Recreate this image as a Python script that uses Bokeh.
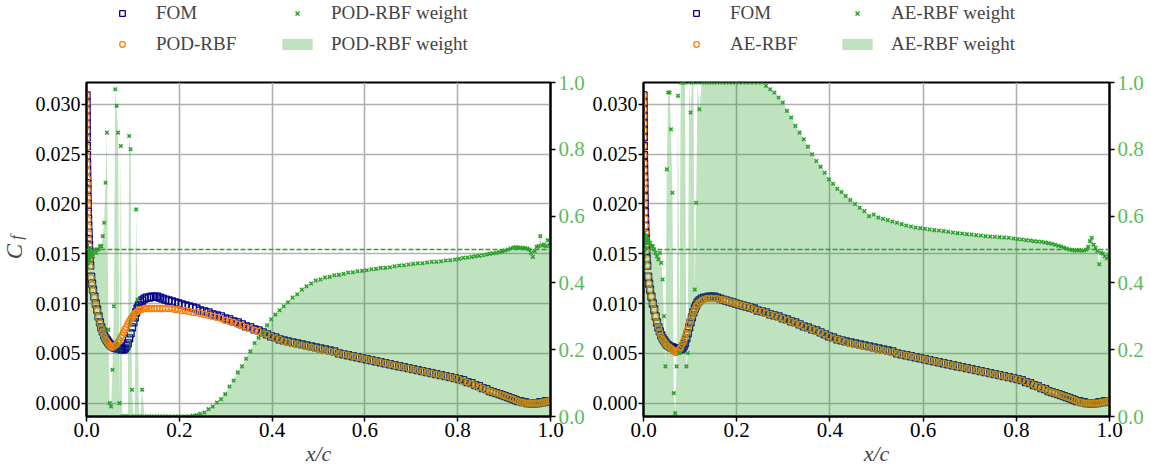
from bokeh.plotting import figure
from bokeh.models import (Range1d, LinearAxis, FixedTicker, PrintfTickFormatter,
                          Span, Legend, LegendItem, Label, ColumnDataSource)
from bokeh.layouts import row, column
from bokeh.embed import file_html
from bokeh.resources import INLINE

# ---------------- data ----------------
x_c = [
    0.0, 0.0001, 0.0002, 0.0003, 0.0004, 0.0005, 0.0006, 0.0008, 0.001, 0.0012,
    0.0014, 0.0016, 0.0018, 0.002, 0.0023, 0.0026, 0.003, 0.0034, 0.0038, 0.0043,
    0.0048, 0.0054, 0.006, 0.007, 0.008,
    0.010, 0.012, 0.014, 0.017, 0.020, 0.023, 0.026, 0.029, 0.032, 0.035,
    0.038, 0.041, 0.044, 0.047, 0.050, 0.053, 0.056, 0.059, 0.062, 0.065,
    0.068, 0.071, 0.074, 0.077, 0.080, 0.083, 0.086, 0.089, 0.092, 0.095,
    0.098, 0.101, 0.104, 0.107, 0.110, 0.113, 0.116, 0.120, 0.125, 0.130,
    0.135, 0.140, 0.146, 0.152, 0.158, 0.164, 0.170, 0.177, 0.184, 0.191,
    0.198, 0.205, 0.213, 0.221, 0.229, 0.237, 0.245, 0.254, 0.263, 0.272,
    0.281, 0.290, 0.299, 0.308, 0.317, 0.326, 0.335, 0.344, 0.353, 0.362,
    0.371, 0.380, 0.389, 0.398, 0.407, 0.416, 0.425, 0.434, 0.444, 0.454,
    0.464, 0.474, 0.484, 0.494, 0.504, 0.514, 0.524, 0.534, 0.544, 0.554,
    0.564, 0.574, 0.584, 0.594, 0.604, 0.614, 0.624, 0.634, 0.644, 0.654,
    0.664, 0.674, 0.684, 0.694, 0.704, 0.714, 0.724, 0.734, 0.744, 0.754,
    0.764, 0.774, 0.784, 0.794, 0.803, 0.812, 0.821, 0.830, 0.838, 0.846,
    0.854, 0.862, 0.869, 0.876, 0.883, 0.890, 0.896, 0.902, 0.908, 0.914,
    0.920, 0.925, 0.930, 0.935, 0.940, 0.945, 0.950, 0.954, 0.958, 0.962,
    0.966, 0.970, 0.974, 0.978, 0.982, 0.986, 0.990, 0.994, 0.998, 1.0,
]

cf_fom = [
    0.0309, 0.0302, 0.0295, 0.0288, 0.0281, 0.0274, 0.0267, 0.0258, 0.0249, 0.0241,
    0.0234, 0.0227, 0.0221, 0.0215, 0.0207, 0.0200, 0.0192, 0.0185, 0.0178, 0.0171,
    0.0165, 0.0159, 0.0153, 0.0145, 0.0138,
    0.0127, 0.0120, 0.0114, 0.0107, 0.0100, 0.0094, 0.0087, 0.0081, 0.0076, 0.0072,
    0.0068, 0.0065, 0.0063, 0.0061, 0.0059, 0.0058, 0.0057, 0.0056, 0.0056, 0.0055,
    0.0055, 0.0055, 0.0054, 0.0054, 0.0054, 0.0055, 0.0057, 0.0060, 0.0065, 0.0070,
    0.0076, 0.0081, 0.0086, 0.0091, 0.0095, 0.0098, 0.0101, 0.0103, 0.0105, 0.0106,
    0.0106, 0.0107, 0.0107, 0.0107, 0.0106, 0.0105, 0.0104, 0.0103, 0.0102, 0.0101,
    0.0100, 0.0099, 0.0098, 0.0097, 0.0096, 0.0095, 0.0093, 0.0092, 0.0091, 0.0089,
    0.0088, 0.0087, 0.0085, 0.0084, 0.0082, 0.0081, 0.0079, 0.0077, 0.0076, 0.0074,
    0.0073, 0.0071, 0.0069, 0.0067, 0.0066, 0.0064, 0.0063, 0.0062, 0.0061, 0.0060,
    0.0059, 0.0058, 0.0057, 0.0056, 0.0055, 0.0054, 0.0053, 0.0052, 0.0050, 0.0049,
    0.0048, 0.0047, 0.0046, 0.0045, 0.0044, 0.0043, 0.0042, 0.0041, 0.0040, 0.0039,
    0.0038, 0.0037, 0.0036, 0.0035, 0.0034, 0.0033, 0.0032, 0.0031, 0.0030, 0.0029,
    0.0028, 0.0027, 0.0026, 0.0025, 0.0024, 0.0023, 0.0021, 0.0020, 0.0018, 0.0017,
    0.0015, 0.0014, 0.0012, 0.0011, 0.0010, 0.0009, 0.0008, 0.0007, 0.0006, 0.0005,
    0.0004, 0.0003, 0.0002, 0.0002, 0.0001, 0.0001, 0.0000, 0.0000, 0.0000, 0.0000,
    0.0000, 0.0000, 0.0000, 0.0001, 0.0001, 0.0001, 0.0002, 0.0002, 0.0002, 0.0002,
]

cf_pod_rbf = [
    0.0309, 0.0301, 0.0294, 0.0287, 0.0280, 0.0273, 0.0266, 0.0257, 0.0248, 0.0240,
    0.0233, 0.0226, 0.0220, 0.0214, 0.0206, 0.0199, 0.0191, 0.0184, 0.0177, 0.0170,
    0.0164, 0.0158, 0.0152, 0.0144, 0.0137,
    0.0126, 0.0119, 0.0113, 0.0106, 0.0099, 0.0093, 0.0086, 0.0080, 0.0075, 0.0071,
    0.0067, 0.0064, 0.0062, 0.0060, 0.0058, 0.0057, 0.0056, 0.0057, 0.0058, 0.0059,
    0.0061, 0.0063, 0.0066, 0.0068, 0.0071, 0.0074, 0.0076, 0.0079, 0.0082, 0.0084,
    0.0086, 0.0088, 0.0090, 0.0091, 0.0092, 0.0093, 0.0094, 0.0094, 0.0095, 0.0095,
    0.0095, 0.0095, 0.0095, 0.0095, 0.0095, 0.0095, 0.0095, 0.0095, 0.0095, 0.0094,
    0.0094, 0.0093, 0.0093, 0.0092, 0.0091, 0.0091, 0.0090, 0.0089, 0.0088, 0.0087,
    0.0086, 0.0085, 0.0083, 0.0082, 0.0081, 0.0079, 0.0078, 0.0076, 0.0075, 0.0073,
    0.0072, 0.0070, 0.0069, 0.0067, 0.0065, 0.0064, 0.0062, 0.0061, 0.0060, 0.0059,
    0.0058, 0.0057, 0.0056, 0.0055, 0.0054, 0.0053, 0.0052, 0.0051, 0.0050, 0.0049,
    0.0048, 0.0047, 0.0046, 0.0045, 0.0044, 0.0043, 0.0042, 0.0041, 0.0040, 0.0039,
    0.0038, 0.0037, 0.0036, 0.0035, 0.0034, 0.0033, 0.0032, 0.0031, 0.0030, 0.0029,
    0.0028, 0.0027, 0.0026, 0.0025, 0.0024, 0.0022, 0.0021, 0.0019, 0.0018, 0.0016,
    0.0015, 0.0013, 0.0012, 0.0011, 0.0010, 0.0009, 0.0008, 0.0007, 0.0006, 0.0005,
    0.0004, 0.0003, 0.0002, 0.0001, 0.0001, 0.0000, 0.0000, 0.0000, 0.0000, 0.0000,
    0.0000, 0.0000, 0.0000, 0.0000, 0.0001, 0.0001, 0.0001, 0.0002, 0.0002, 0.0002,
]

cf_ae_rbf = [
    0.0309, 0.0302, 0.0295, 0.0288, 0.0281, 0.0274, 0.0267, 0.0258, 0.0249, 0.0241,
    0.0234, 0.0227, 0.0221, 0.0215, 0.0207, 0.0200, 0.0192, 0.0185, 0.0178, 0.0171,
    0.0165, 0.0159, 0.0153, 0.0145, 0.0138,
    0.0127, 0.0120, 0.0114, 0.0107, 0.0100, 0.0094, 0.0087, 0.0081, 0.0076, 0.0071,
    0.0067, 0.0064, 0.0062, 0.0060, 0.0058, 0.0057, 0.0056, 0.0055, 0.0054, 0.0052,
    0.0051, 0.0051, 0.0052, 0.0054, 0.0056, 0.0059, 0.0062, 0.0066, 0.0070, 0.0074,
    0.0079, 0.0083, 0.0087, 0.0091, 0.0094, 0.0097, 0.0099, 0.0101, 0.0103, 0.0104,
    0.0105, 0.0105, 0.0105, 0.0105, 0.0105, 0.0104, 0.0104, 0.0103, 0.0102, 0.0101,
    0.0100, 0.0099, 0.0098, 0.0097, 0.0096, 0.0094, 0.0093, 0.0092, 0.0090, 0.0089,
    0.0088, 0.0086, 0.0085, 0.0083, 0.0082, 0.0080, 0.0079, 0.0077, 0.0075, 0.0074,
    0.0072, 0.0071, 0.0069, 0.0067, 0.0065, 0.0064, 0.0063, 0.0061, 0.0060, 0.0059,
    0.0058, 0.0057, 0.0056, 0.0055, 0.0054, 0.0053, 0.0052, 0.0051, 0.0050, 0.0049,
    0.0048, 0.0047, 0.0046, 0.0045, 0.0044, 0.0043, 0.0042, 0.0041, 0.0040, 0.0039,
    0.0038, 0.0037, 0.0036, 0.0035, 0.0034, 0.0033, 0.0032, 0.0031, 0.0030, 0.0029,
    0.0028, 0.0027, 0.0026, 0.0025, 0.0024, 0.0023, 0.0021, 0.0020, 0.0018, 0.0017,
    0.0015, 0.0014, 0.0012, 0.0011, 0.0010, 0.0009, 0.0008, 0.0007, 0.0006, 0.0005,
    0.0004, 0.0003, 0.0002, 0.0001, 0.0001, 0.0000, 0.0000, 0.0000, 0.0000, 0.0000,
    0.0000, 0.0000, 0.0000, 0.0000, 0.0001, 0.0001, 0.0001, 0.0002, 0.0002, 0.0002,
]

w_pod_rbf = [
    0.47, 0.45, 0.50, 0.46, 0.52, 0.48, 0.45, 0.50, 0.47, 0.49,
    0.46, 0.51, 0.48, 0.47, 0.50, 0.46, 0.49, 0.48, 0.50, 0.47,
    0.49, 0.48, 0.50, 0.47, 0.49,
    0.48, 0.49, 0.48, 0.50, 0.49, 0.50, 0.50, 0.51, 0.51, 0.54,
    0.58, 0.70, 0.85, 0.26, 0.04, 0.03, 0.14, 0.33, 0.98, 0.93,
    0.85, 0.04, 0.81, 0.00, 0.00, 0.00, 0.00, 0.00, 0.84, 0.80,
    0.08, 0.00, 0.00, 0.62, 0.35, 0.00, 0.00, 0.08, 0.00, 0.00,
    0.00, 0.00, 0.00, 0.00, 0.00, 0.00, 0.00, 0.00, 0.00, 0.00,
    0.00, 0.00, 0.00, 0.00, 0.002, 0.004, 0.008, 0.012, 0.022, 0.030,
    0.042, 0.052, 0.067, 0.090, 0.108, 0.132, 0.150, 0.173, 0.195, 0.220,
    0.236, 0.254, 0.273, 0.291, 0.305, 0.318, 0.330, 0.342, 0.356, 0.366,
    0.380, 0.390, 0.398, 0.407, 0.410, 0.416, 0.418, 0.423, 0.424, 0.427,
    0.431, 0.432, 0.435, 0.436, 0.438, 0.441, 0.442, 0.445, 0.445, 0.447,
    0.450, 0.452, 0.453, 0.455, 0.457, 0.459, 0.459, 0.461, 0.463, 0.463,
    0.465, 0.467, 0.468, 0.470, 0.472, 0.475, 0.476, 0.478, 0.480, 0.481,
    0.483, 0.485, 0.487, 0.489, 0.490, 0.492, 0.494, 0.497, 0.500, 0.503,
    0.506, 0.507, 0.506, 0.505, 0.505, 0.504, 0.503, 0.500, 0.490, 0.478,
    0.495, 0.508, 0.510, 0.540, 0.512, 0.515, 0.510, 0.528, 0.512, 0.520,
]

w_ae_rbf = [
    0.50, 0.45, 0.55, 0.47, 0.53, 0.49, 0.55, 0.46, 0.54, 0.51,
    0.55, 0.48, 0.54, 0.52, 0.55, 0.50, 0.54, 0.53, 0.52, 0.54,
    0.53, 0.52, 0.54, 0.53, 0.52,
    0.53, 0.52, 0.52, 0.51, 0.51, 0.50, 0.49, 0.48, 0.47, 0.49,
    0.46, 0.41, 0.30, 0.15, 0.74, 0.97, 0.97, 0.86, 0.67, 0.07,
    0.01, 0.15, 0.96, 0.19, 1.00, 1.00, 1.00, 1.00, 0.15, 0.19,
    1.00, 0.91, 1.00, 1.00, 0.38, 0.64, 1.00, 0.92, 1.00, 1.00,
    1.00, 1.00, 1.00, 1.00, 1.00, 1.00, 1.00, 1.00, 1.00, 1.00,
    1.00, 1.00, 1.00, 1.00, 1.00, 1.00, 1.00, 1.00, 0.99, 0.98,
    0.97, 0.955, 0.94, 0.915, 0.895, 0.87, 0.85, 0.83, 0.808, 0.785,
    0.765, 0.748, 0.73, 0.71, 0.697, 0.682, 0.672, 0.66, 0.648, 0.636,
    0.625, 0.615, 0.600, 0.605, 0.596, 0.592, 0.588, 0.584, 0.580, 0.576,
    0.572, 0.569, 0.566, 0.564, 0.562, 0.560, 0.558, 0.557, 0.555, 0.553,
    0.551, 0.549, 0.548, 0.546, 0.545, 0.543, 0.542, 0.540, 0.539, 0.538,
    0.537, 0.536, 0.535, 0.533, 0.531, 0.530, 0.528, 0.527, 0.525, 0.524,
    0.523, 0.521, 0.519, 0.517, 0.514, 0.511, 0.509, 0.506, 0.503, 0.500,
    0.499, 0.497, 0.498, 0.498, 0.497, 0.497, 0.500, 0.508, 0.525, 0.535,
    0.515, 0.505, 0.495, 0.456, 0.490, 0.488, 0.480, 0.474, 0.485, 0.480,
]

weight_threshold = 0.5
x_ticks = [0.0, 0.2, 0.4, 0.6, 0.8, 1.0]
cf_ticks = [0.000, 0.005, 0.010, 0.015, 0.020, 0.025, 0.030]
w_ticks = [0.0, 0.2, 0.4, 0.6, 0.8, 1.0]

for arr in (cf_fom, cf_pod_rbf, cf_ae_rbf, w_pod_rbf, w_ae_rbf):
    assert len(arr) == len(x_c)

# ---------------- styling ----------------
FONT = "Liberation Serif"
GREEN = "#2ca02c"
GREEN_LABEL = "#5dbb5d"
NAVY = "#00008b"
ORANGE = "#ff7f0e"
GRID = "#b0b0b0"
LABEL_W = 31
LEG_H = 72

src_pod = ColumnDataSource(dict(x=x_c, fom=cf_fom, rom=cf_pod_rbf, w=w_pod_rbf))
src_ae = ColumnDataSource(dict(x=x_c, fom=cf_fom, rom=cf_ae_rbf, w=w_ae_rbf))


def style_axis(ax, fmt, ticks, label_color="black", size="21px"):
    ax.ticker = FixedTicker(ticks=ticks)
    ax.formatter = PrintfTickFormatter(format=fmt)
    ax.axis_line_color = "black"
    ax.axis_line_width = 2
    ax.major_tick_line_color = "black"
    ax.major_tick_line_width = 1.5
    ax.major_tick_out = 5
    ax.major_tick_in = 0
    ax.minor_tick_line_color = None
    ax.major_label_text_font = FONT
    ax.major_label_text_font_size = size
    ax.major_label_text_color = label_color
    ax.major_label_standoff = 1


def draw_series(p, src, y_range_name="default"):
    """FOM squares, ROM circles, weight fill and weight crosses."""
    r_fom = p.scatter("x", "fom", source=src, marker="square", size=7,
                      fill_color=None, line_color=NAVY, line_width=1.3)
    r_rom = p.scatter("x", "rom", source=src, marker="circle", size=6,
                      fill_color=None, line_color=ORANGE, line_width=1.3)
    r_fill = p.varea(x="x", y1=0, y2="w", source=src, y_range_name=y_range_name,
                     fill_color=GREEN, fill_alpha=0.3)
    r_wx = p.scatter("x", "w", source=src, y_range_name=y_range_name, marker="x",
                     size=5, line_color=GREEN, line_width=1.5)
    return r_fom, r_rom, r_fill, r_wx


def make_panel(src, b_left, b_right, f_width):
    p = figure(frame_width=f_width, frame_height=334,
               min_border_left=b_left, min_border_right=b_right,
               min_border_top=10, min_border_bottom=55,
               x_range=Range1d(0, 1), y_range=Range1d(-0.00135, 0.0322),
               output_backend="svg", toolbar_location=None)
    p.extra_y_ranges = {"w": Range1d(0, 1)}
    p.background_fill_color = "white"
    p.border_fill_color = "white"
    p.outline_line_color = "black"
    p.outline_line_width = 2
    p.outline_line_alpha = 1

    style_axis(p.xaxis[0], "%.1f", x_ticks)
    style_axis(p.yaxis[0], "%.3f", cf_ticks, size="20px")
    p.xaxis[0].axis_label = "x/c"
    p.xaxis[0].axis_label_text_font = FONT
    p.xaxis[0].axis_label_text_font_style = "italic"
    p.xaxis[0].axis_label_text_font_size = "22px"
    p.xaxis[0].axis_label_standoff = 1

    ax_r = LinearAxis(y_range_name="w")
    style_axis(ax_r, "%.1f", w_ticks, GREEN_LABEL)
    ax_r.major_label_standoff = 3
    p.add_layout(ax_r, "right")

    p.xgrid.ticker = FixedTicker(ticks=x_ticks)
    p.ygrid.ticker = FixedTicker(ticks=cf_ticks)
    for g in (p.xgrid, p.ygrid):
        g.grid_line_color = GRID
        g.grid_line_width = 1.6

    draw_series(p, src, "w")
    p.add_layout(Span(location=weight_threshold, dimension="width", y_range_name="w",
                      line_color=GREEN, line_dash="5 2", line_width=1.3))
    return p


# ---------------- legend strip (above both panels) ----------------
# the series are drawn here again, but outside this strip's visible range,
# so only the legend entries show
leg = figure(width=1151, height=LEG_H, min_border=0, x_range=Range1d(0, 1),
             y_range=Range1d(10, 11), x_axis_location=None, y_axis_location=None,
             output_backend="svg", toolbar_location=None)
leg.outline_line_color = None
leg.xgrid.visible = False
leg.ygrid.visible = False


def add_legend(items, x):
    lg = Legend(items=items, location=(x, 16), padding=0, margin=0,
                spacing=7, glyph_width=38, glyph_height=14, label_standoff=15,
                label_height=24, border_line_color=None, background_fill_alpha=0,
                label_text_font=FONT, label_text_font_size="19px")
    leg.add_layout(lg)


for src, rom_name, x1, x2 in ((src_pod, "POD-RBF", 103, 278), (src_ae, "AE-RBF", 677, 838)):
    g_fom, g_rom, g_fill, g_wx = draw_series(leg, src)
    add_legend([LegendItem(label="FOM", renderers=[g_fom]),
                LegendItem(label=rom_name, renderers=[g_rom])], x1)
    add_legend([LegendItem(label=rom_name + " weight", renderers=[g_wx]),
                LegendItem(label=rom_name + " weight", renderers=[g_fill])], x2)

# ---------------- narrow strip with the rotated C_f label ----------------
# its frame is aligned with the panels' frames (canvas y 82..416)
PH = 10 + 334 + 55
FRAME_BOTTOM = 416
p0 = figure(width=LABEL_W, height=PH, min_border=0, x_range=Range1d(0, 1),
            y_range=Range1d(0, 1), x_axis_location=None, y_axis_location=None,
            output_backend="svg", toolbar_location=None)
p0.outline_line_color = None
p0.xgrid.visible = False
p0.ygrid.visible = False
p0.add_layout(Label(x=14, y=FRAME_BOTTOM - 251, x_units="screen", y_units="screen",
                    text="C", angle=90, angle_units="deg",
                    text_font=FONT, text_font_style="italic",
                    text_font_size="23px", text_align="center",
                    text_baseline="middle"))
p0.add_layout(Label(x=16, y=FRAME_BOTTOM - 237, x_units="screen", y_units="screen",
                    text="f", angle=90, angle_units="deg",
                    text_font=FONT, text_font_style="italic",
                    text_font_size="16px", text_align="center",
                    text_baseline="middle"))

p1 = make_panel(src_pod, 86 - LABEL_W, 38, 464)
p2 = make_panel(src_ae, 55, 42, 466)

layout = column(leg, row(p0, p1, p2, spacing=0), spacing=0)
open("out.html", "w").write(file_html(layout, INLINE))
